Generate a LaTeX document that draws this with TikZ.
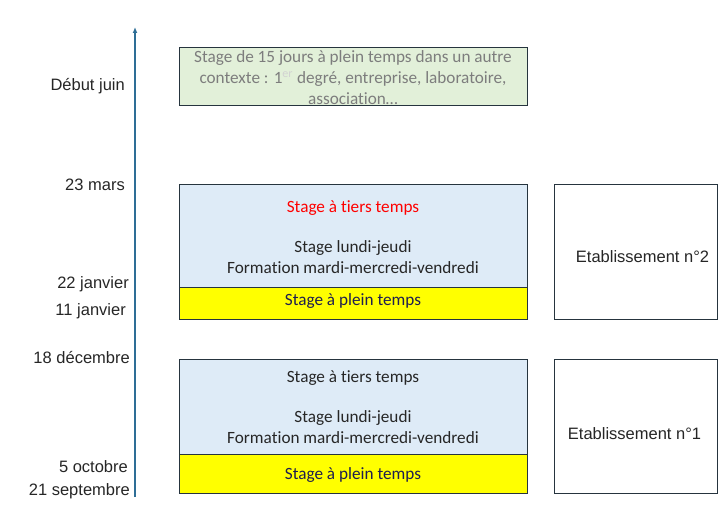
\documentclass[tikz,border=0pt]{standalone}
\usepackage{fontspec}
\setmainfont[Ligatures=NoCommon]{Carlito}
\newfontfamily\lab{Liberation Sans}
\usetikzlibrary{arrows.meta}
\definecolor{bluefill}{RGB}{222,235,247}
\definecolor{greenfill}{RGB}{226,240,217}
\definecolor{yell}{RGB}{255,255,0}
\definecolor{edgec}{RGB}{38,52,62}
\definecolor{axisc}{RGB}{46,110,150}
\definecolor{navytxt}{RGB}{30,30,80}
\definecolor{graytxt}{RGB}{125,125,125}
\begin{document}
\begin{tikzpicture}[x=1pt,y=-1pt,
  box/.style={draw=edgec,line width=1pt,inner sep=0pt,anchor=north west},
  datelab/.style={font=\lab\fontsize{16.5}{19}\selectfont,anchor=east,inner sep=0pt,text=black!85},
  txt/.style={font=\fontsize{17.2}{21}\selectfont,align=center,inner sep=0pt,text=black!85},
  etab/.style={font=\lab\fontsize{16.5}{19}\selectfont,inner sep=0pt,text=black!85}]
\useasboundingbox (0,0) rectangle (727,508);
% axis
\coordinate (abot) at (135,497);
\coordinate (atop) at (135,27);
\draw[axisc,line width=1.2pt,-{Latex[length=6pt,width=5pt]}] (abot) -- (atop);
% green box
\node[box,fill=greenfill,minimum width=348pt,minimum height=58pt] (g) at (179,47) {};
\node[txt,text=graytxt] (gt) at (353,77.5) {Stage de 15 jours à plein temps dans un autre\\contexte : 1\textsuperscript{\color{white!65!gray}er} degré, entreprise, laboratoire,\\association…};
% period 2
\node[box,fill=bluefill,minimum width=348pt,minimum height=103pt] (b2) at (179,184) {};
\node[box,fill=yell,minimum width=348pt,minimum height=32pt] (y2) at (179,287) {};
\node[box,fill=white,minimum width=163pt,minimum height=135pt] (e2) at (554,184) {};
\node[txt,text=red] (t2a) at (353,208) {Stage à tiers temps};
\node[txt] (t2b) at (353,257.5) {Stage lundi-jeudi\\Formation mardi-mercredi-vendredi};
\node[txt,text=navytxt] (t2c) at (353,301) {Stage à plein temps};
\node[etab] (e2t) at (642.5,257) {Etablissement n°2};
% period 1
\node[box,fill=bluefill,minimum width=348pt,minimum height=95pt] (b1) at (179,359) {};
\node[box,fill=yell,minimum width=348pt,minimum height=39pt] (y1) at (179,454) {};
\node[box,fill=white,minimum width=163pt,minimum height=134pt] (e1) at (554,359) {};
\node[txt] (t1a) at (353,378) {Stage à tiers temps};
\node[txt] (t1b) at (353,427.5) {Stage lundi-jeudi\\Formation mardi-mercredi-vendredi};
\node[txt,text=navytxt] (t1c) at (353,475) {Stage à plein temps};
\node[etab] (e1t) at (634.5,434) {Etablissement n°1};
% dates
\node[datelab] (d1) at (125,86) {Début juin};
\node[datelab] (d2) at (125,185) {23 mars};
\node[datelab] (d3) at (129,284) {22 janvier};
\node[datelab] (d4) at (126,311) {11 janvier};
\node[datelab] (d5) at (130,358) {18 décembre};
\node[datelab] (d6) at (128,467) {5 octobre};
\node[datelab] (d7) at (130,491) {21 septembre};
\end{tikzpicture}
\end{document}
